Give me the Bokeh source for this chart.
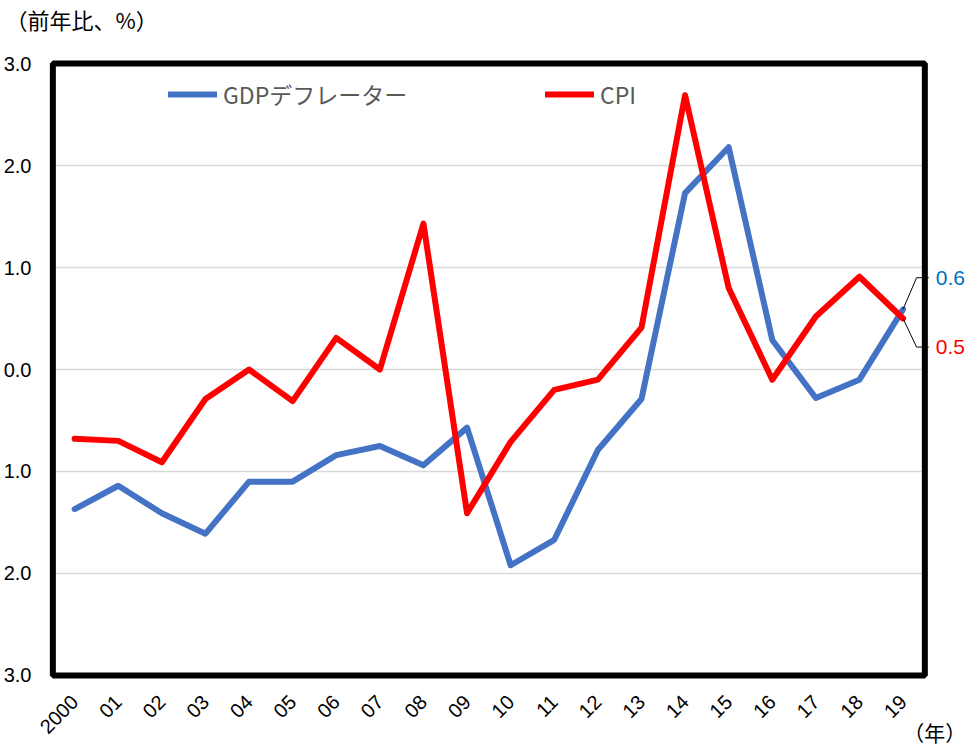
import math
from bokeh.plotting import figure
from bokeh.models import FixedTicker, BoxAnnotation, Label, Legend, LegendItem, Range1d
from bokeh.embed import file_html
from bokeh.resources import INLINE

# ---- data ----
years = ["2000", "01", "02", "03", "04", "05", "06", "07", "08", "09",
         "10", "11", "12", "13", "14", "15", "16", "17", "18", "19"]
gdp_deflator = [-1.37, -1.14, -1.41, -1.61, -1.10, -1.10, -0.84, -0.75, -0.94, -0.57,
                -1.92, -1.67, -0.79, -0.29, 1.73, 2.18, 0.29, -0.28, -0.10, 0.59]
cpi = [-0.68, -0.70, -0.91, -0.29, 0.00, -0.31, 0.31, 0.00, 1.43, -1.41,
       -0.71, -0.20, -0.10, 0.41, 2.69, 0.80, -0.10, 0.52, 0.91, 0.50]
y_ticks = [-3, -2, -1, 0, 1, 2, 3]
y_tick_labels = ["3.0", "2.0", "1.0", "0.0", "1.0", "2.0", "3.0"]
series_names = ["GDPデフレーター", "CPI"]
y_unit = "（前年比、%）"
x_unit = "（年）"

# ---- style ----
BLUE = "#4472C4"
RED = "#FF0000"
NUM_FONT = "Liberation Sans"
JP_FONT = "Noto Sans CJK JP"

x = list(range(len(years)))
x_lo, x_hi = -0.5, len(years) - 0.5

p = figure(width=971, height=751,
           x_range=Range1d(-0.6, 20.57), y_range=Range1d(-3.05, 3.05),
           output_backend="svg", toolbar_location=None,
           min_border_left=48, min_border_right=0,
           min_border_top=58, min_border_bottom=71)
p.background_fill_color = "white"
p.border_fill_color = "white"
p.outline_line_color = None
p.grid.visible = False

# title (unit of y axis), at the top-left corner; a blank second line
# lifts the first line to the top of the canvas
p.title.text = y_unit + "\n\u3000"
p.title.text_font = JP_FONT
p.title.text_font_size = "22px"
p.title.text_line_height = 0.7
p.title.text_font_style = "normal"
p.title.text_color = "black"
p.title.align = "left"
p.title.vertical_align = "top"
p.title.offset = -43
p.title.standoff = 0

# horizontal gridlines limited to the plot box
inner = [t for t in y_ticks if y_ticks[0] < t < y_ticks[-1]]
p.segment(x0=[x_lo] * len(inner), x1=[x_hi] * len(inner), y0=inner, y1=inner,
          line_color="#D9D9D9", line_width=1.5)

r_gdp = p.line(x, gdp_deflator, line_color=BLUE, line_width=6,
               line_join="round", line_cap="round")
r_cpi = p.line(x, cpi, line_color=RED, line_width=6,
               line_join="round", line_cap="round")

# plot box
p.add_layout(BoxAnnotation(left=x_lo, right=x_hi, bottom=y_ticks[0], top=y_ticks[-1],
                           fill_alpha=0, line_color="black", line_alpha=1.0,
                           line_width=6))

# axes
p.yaxis.ticker = FixedTicker(ticks=y_ticks)
p.yaxis.major_label_overrides = {t: s for t, s in zip(y_ticks, y_tick_labels)}
xax = p.below[0]
xax.ticker = FixedTicker(ticks=x)
xax.major_label_overrides = {i: s for i, s in zip(x, years)}
xax.major_label_orientation = math.pi / 4
for ax in (xax, p.left[0]):
    ax.axis_line_color = None
    ax.major_tick_line_color = None
    ax.minor_tick_line_color = None
    ax.major_tick_out = 0
    ax.major_tick_in = 0
    ax.minor_tick_out = 0
    ax.major_label_text_font = NUM_FONT
    ax.major_label_text_font_size = "20px"
    ax.major_label_text_color = "black"
p.left[0].major_label_standoff = 17
xax.major_label_standoff = 18

# x unit label at the right end of the x axis (label is centred on the axis end,
# so it is padded with ideographic spaces to sit left of the edge)
xax.axis_label = x_unit + "\u3000" * 4
xax.axis_label_align = "end"
xax.axis_label_standoff = -26
xax.axis_label_text_font = JP_FONT
xax.axis_label_text_font_size = "21px"
xax.axis_label_text_font_style = "normal"
xax.axis_label_text_color = "black"

# legends (one per item, placed separately)
for name, rend, loc in [(series_names[0], r_gdp, (120, 569)),
                        (series_names[1], r_cpi, (497, 569))]:
    leg = Legend(items=[LegendItem(label=name, renderers=[rend])], location=loc,
                 orientation="horizontal", background_fill_alpha=0,
                 border_line_color=None, padding=0, margin=0, spacing=0,
                 glyph_width=49, glyph_height=24, label_height=24, label_standoff=6,
                 label_text_font=JP_FONT, label_text_font_size="23px",
                 label_text_color="#595959")
    p.add_layout(leg)

# end-value annotations with leader lines
BEND_X, END_X, LABEL_X = 19.31, 19.59, 19.75
gdp_label_y, cpi_label_y = 0.90, 0.22
p.line([x[-1], BEND_X, END_X], [gdp_deflator[-1], gdp_label_y, gdp_label_y],
       line_color="black", line_width=1)
p.line([x[-1], BEND_X, END_X], [cpi[-1], cpi_label_y, cpi_label_y],
       line_color="black", line_width=1)
p.add_layout(Label(x=LABEL_X, y=gdp_label_y, text=f"{gdp_deflator[-1]:.1f}",
                   text_color="#0070C0", text_font=NUM_FONT, text_font_size="21px",
                   text_align="left", text_baseline="middle"))
p.add_layout(Label(x=LABEL_X, y=cpi_label_y, text=f"{cpi[-1]:.1f}",
                   text_color=RED, text_font=NUM_FONT, text_font_size="21px",
                   text_align="left", text_baseline="middle"))

open("out.html", "w").write(file_html(p, INLINE))
